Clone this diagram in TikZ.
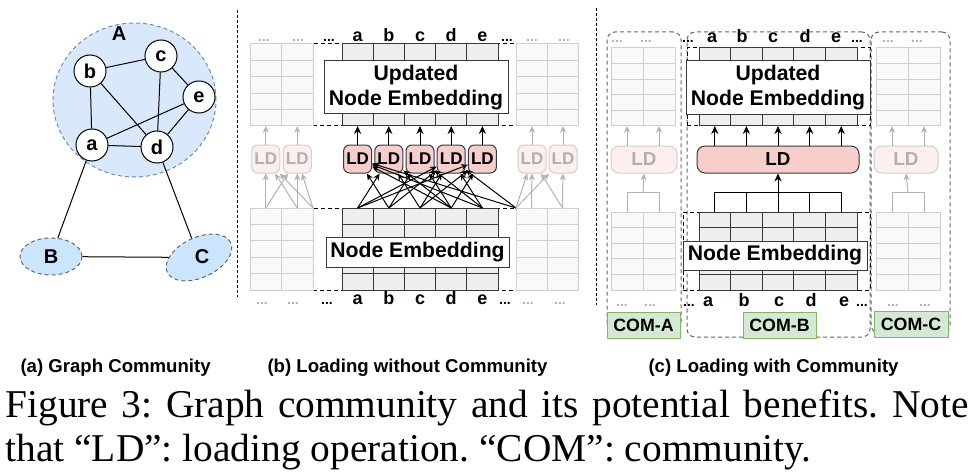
\documentclass[tikz,border=0pt]{standalone}
\usepackage{fontspec}
\setmainfont{Liberation Serif}
\setsansfont{Liberation Sans}
\usepackage{tikz}
\usetikzlibrary{shapes.geometric, arrows.meta, calc}
\frenchspacing

\definecolor{blueA}{HTML}{DAE8FC}
\definecolor{blueB}{HTML}{6C8EBF}
\definecolor{blueC}{HTML}{CCE5FF}
\definecolor{gridfill}{HTML}{EEEEEE}
\definecolor{gridline}{HTML}{36393D}
\definecolor{fadefill}{HTML}{F9F9F9}
\definecolor{fadeline}{HTML}{CFCFCF}
\definecolor{fadearr}{HTML}{B3B3B3}
\definecolor{fadetext}{HTML}{B0B0B0}
\definecolor{ldpink}{HTML}{F8CECC}
\definecolor{ldfade}{HTML}{FDEFEE}
\definecolor{greenA}{HTML}{D5E8D4}
\definecolor{greenB}{HTML}{82B366}

% inner lines of an embedding table: node, columns, rows, colour
\newcommand{\gridcells}[4]{%
  \pgfmathtruncatemacro{\lastcol}{#2-1}%
  \pgfmathtruncatemacro{\lastrow}{#3-1}%
  \foreach \k in {1,...,\lastcol}
    \draw [#4] ($(#1.north west)!\k/#2!(#1.north east)$) -- ($(#1.south west)!\k/#2!(#1.south east)$);
  \foreach \k in {1,...,\lastrow}
    \draw [#4] ($(#1.north west)!\k/#3!(#1.south west)$) -- ($(#1.north east)!\k/#3!(#1.south east)$);
}

\begin{document}
\begin{tikzpicture}[
    x=0.5pt, y=-0.5pt, line width=0.5pt,
    vertex/.style={circle, draw, fill=white, minimum size=16pt, inner sep=0pt, font=\sffamily\bfseries\fontsize{10}{12}\selectfont},
    bigcom/.style={ellipse, draw=blueB, dash pattern=on 2pt off 1.5pt, fill=blueA, minimum width=81.5pt, minimum height=77pt},
    smallcom/.style={ellipse, draw=gray!80!black, dash pattern=on 2pt off 1.5pt, fill=blueC, inner sep=0pt},
    tag/.style={font=\sffamily\bfseries\fontsize{10}{12}\selectfont},
    cellbox/.style={rectangle, draw=gridline, fill=gridfill, inner sep=0pt, outer sep=0pt},
    fadebox/.style={rectangle, draw=fadeline, fill=fadefill, inner sep=0pt, outer sep=0pt},
    frame/.style={rectangle, draw, dash pattern=on 2pt off 1.5pt, inner sep=0pt, outer sep=0pt},
    embed/.style={rectangle, draw=gridline, fill=white, inner sep=0pt, align=center, font=\sffamily\bfseries\fontsize{10.6}{12.5}\selectfont},
    ld/.style={rectangle, rounded corners=3pt, draw=gridline, fill=ldpink, inner sep=0pt, minimum size=14pt, font=\sffamily\bfseries\fontsize{8.5}{10}\selectfont},
    ldfaded/.style={ld, draw=fadeline, fill=ldfade, text=fadetext},
    ldbig/.style={ld, rounded corners=4pt, font=\sffamily\bfseries\fontsize{9.4}{11}\selectfont},
    colname/.style={anchor=base, inner sep=0pt, font=\sffamily\bfseries\fontsize{9}{10}\selectfont},
    dotsdark/.style={anchor=base, inner sep=0pt, font=\sffamily\bfseries\fontsize{7}{8}\selectfont},
    dotsfade/.style={dotsdark, text=fadetext},
    combox/.style={rectangle, rounded corners=4pt, draw=gray!80!black, dash pattern=on 2pt off 1.5pt, inner sep=0pt},
    comtag/.style={rectangle, draw=greenB, fill=greenA, inner sep=0pt, minimum height=13pt, font=\sffamily\bfseries\fontsize{8.9}{10}\selectfont},
    arrow/.style={-{Stealth[length=4pt, width=3.6pt]}},
    crossarrow/.style={-{Stealth[length=3.4pt, width=3pt]}},
    fadearrow/.style={crossarrow, draw=fadearr},
    divider/.style={dash pattern=on 1.5pt off 1pt},
    subcap/.style={anchor=base west, inner sep=0pt, font=\sffamily\bfseries\fontsize{9.3}{11}\selectfont},
    figcap/.style={anchor=base west, inner sep=0pt, font=\fontsize{19.7}{23.5}\selectfont}
]
\useasboundingbox (0,0) rectangle (974,476);

% (a) graph community
\node (A) [bigcom] at (134.5,100) {};
\node (labA) [tag] at (119,34) {A};
\node (B) [smallcom, minimum width=31pt, minimum height=18.5pt] at (51,256.5) {};
\node (C) [smallcom, minimum width=35pt, minimum height=20pt, rotate=25] at (199,257.5) {};
\node (labB) [tag] at (51,257) {B};
\node (labC) [tag] at (202,257) {C};
\node (b) [vertex] at (90,71) {b};
\node (c) [vertex] at (161,56) {c};
\node (e) [vertex] at (199,97) {e};
\node (a) [vertex] at (92,145) {a};
\node (d) [vertex] at (157,147) {d};

\draw (b) -- (c);
\draw (c) -- (e);
\draw (b) -- (a);
\draw (b) -- (d);
\draw (c) -- (d);
\draw (e) -- (a);
\draw (e) -- (d);
\draw (a) -- (d);
\draw (a) -- (B);
\draw (d) -- (C);
\draw (B) -- (C);

\draw [divider] (237,10) -- (237,297);
\draw [divider] (596,8) -- (596,305);

% (b) loading without community
\node (tfB) [frame, minimum width=101.5pt, minimum height=41pt] at (414.5,85) {};
\node (bfB) [frame, minimum width=101.5pt, minimum height=41pt] at (414.5,249) {};
\node (tlB) [fadebox, minimum width=31.5pt, minimum height=41pt] at (281.5,85) {};
\node (tgB) [cellbox, minimum width=78pt, minimum height=41pt] at (420,85) {};
\node (trB) [fadebox, minimum width=31pt, minimum height=41pt] at (547,85) {};
\node (blB) [fadebox, minimum width=31.5pt, minimum height=41pt] at (281.5,249) {};
\node (bgB) [cellbox, minimum width=78pt, minimum height=41pt] at (420,249) {};
\node (brB) [fadebox, minimum width=31pt, minimum height=41pt] at (547,249) {};
\gridcells{tlB}{2}{5}{fadeline}
\gridcells{tgB}{5}{5}{gridline}
\gridcells{trB}{2}{5}{fadeline}
\gridcells{blB}{2}{5}{fadeline}
\gridcells{bgB}{5}{5}{gridline}
\gridcells{brB}{2}{5}{fadeline}
\node (updB) [embed, minimum width=92pt, minimum height=26.5pt] at (416,87.5) {Updated\\Node Embedding};
\node (embB) [embed, minimum width=91.5pt, minimum height=15pt] at (417.5,252) {Node Embedding};

\foreach \n/\x in {a/357.6, b/388.8, c/420, d/451.2, e/482.4} {
  \node (ldB\n) [ld] at (\x,159) {LD};
  \node (tB\n) [colname] at (\x,42) {\n};
  \node (uB\n) [colname] at (\x,304) {\n};
}
\node (ldBl1) [ldfaded] at (265.75,159) {LD};
\node (ldBl2) [ldfaded] at (297.25,159) {LD};
\node (ldBr1) [ldfaded] at (532,159) {LD};
\node (ldBr2) [ldfaded] at (563,159) {LD};
\foreach \x in {264,298,532,564} \node (dtB\x) [dotsfade] at (\x,42) {...};
\foreach \x in {262,293,528,560} \node (duB\x) [dotsfade] at (\x,304) {...};
\node (dtBl) [dotsdark] at (329,42) {...};
\node (dtBr) [dotsdark] at (507,42) {...};
\node (duBl) [dotsdark] at (327,304) {...};
\node (duBr) [dotsdark] at (505,304) {...};

\foreach \n in {a,...,e} \draw [arrow] (ldB\n) -- (ldB\n |- tgB.south);
\foreach \n in {l1,l2,r1,r2} \draw [fadearrow] (ldB\n) -- (ldB\n |- tgB.south);

\foreach \n/\f in {a/0.1, b/0.3, c/0.5, d/0.7, e/0.9}
  \coordinate (sB\n) at ($(bgB.north west)!\f!(bgB.north east)$);
\coordinate (sBl1) at ($(blB.north west)!0.25!(blB.north east)$);
\coordinate (sBl2) at ($(blB.north west)!0.75!(blB.north east)$);
\coordinate (sBr1) at ($(brB.north west)!0.25!(brB.north east)$);
\coordinate (sBr2) at ($(brB.north west)!0.75!(brB.north east)$);

\foreach \s/\t in {b/a, d/a, e/a, a/b, c/b, d/b, b/c, d/c, e/c, a/d, b/d, c/d, e/d, a/e, c/e, d/e}
  \draw [crossarrow] (sB\s) -- (ldB\t);
\draw [crossarrow] (bfB.north east) -- (ldBa);
\draw [crossarrow] (bfB.north east) -- (ldBd);
\draw [fadearrow] (sBl1) -- (ldBl1);
\draw [fadearrow] (sBl2) -- (ldBl1);
\draw [fadearrow] (bfB.north west) -- (ldBl1);
\draw [fadearrow] (sBl2) -- (ldBl2);
\draw [fadearrow] (sBl1) -- (ldBl2);
\draw [fadearrow] (bfB.north west) -- (ldBl2);
\draw [fadearrow] (sBr1) -- (ldBr1);
\draw [fadearrow] (sBr2) -- (ldBr1);
\draw [fadearrow] (bfB.north east) -- (ldBr1);
\draw [fadearrow] (sBr2) -- (ldBr2);
\draw [fadearrow] (bfB.north east) -- (ldBr2);

% (c) loading with community
\node (cA) [combox, minimum width=37pt, minimum height=150.5pt] at (644,182.5) {};
\node (cB) [combox, minimum width=91.5pt, minimum height=152.5pt] at (778.5,184.5) {};
\node (cC) [combox, minimum width=39.5pt, minimum height=150.5pt] at (910.5,182.5) {};
\node (tfC) [frame, minimum width=91.5pt, minimum height=39pt] at (778.5,87) {};
\node (bfC) [frame, minimum width=93.5pt, minimum height=39pt] at (776.5,251) {};
\node (tlC) [fadebox, minimum width=32pt, minimum height=39pt] at (643,87) {};
\node (tgC) [cellbox, minimum width=79pt, minimum height=39pt] at (778,87) {};
\node (trC) [fadebox, minimum width=32pt, minimum height=39pt] at (908,87) {};
\node (blC) [fadebox, minimum width=32pt, minimum height=39pt] at (643,251) {};
\node (bgC) [cellbox, minimum width=79pt, minimum height=39pt] at (778,251) {};
\node (brC) [fadebox, minimum width=32pt, minimum height=39pt] at (908,251) {};
\gridcells{tlC}{2}{5}{fadeline}
\gridcells{tgC}{5}{5}{gridline}
\gridcells{trC}{2}{5}{fadeline}
\gridcells{blC}{2}{5}{fadeline}
\gridcells{bgC}{5}{5}{gridline}
\gridcells{brC}{2}{5}{fadeline}
\node (updC) [embed, minimum width=92pt, minimum height=27pt] at (778,88) {Updated\\Node Embedding};
\node (embC) [embed, minimum width=92pt, minimum height=14.5pt] at (775,255.5) {Node Embedding};

\node (ldC) [ldbig, minimum width=81pt, minimum height=13.5pt] at (778,159.5) {LD};
\node (ldCl) [ldfaded, ldbig, draw=fadeline, fill=ldfade, text=fadetext, minimum width=33pt, minimum height=13.5pt] at (644,159.5) {LD};
\node (ldCr) [ldfaded, ldbig, draw=fadeline, fill=ldfade, text=fadetext, minimum width=32pt, minimum height=13.5pt] at (906,159.5) {LD};

\node (tagA) [comtag, minimum width=36.5pt] at (643.5,325) {COM-A};
\node (tagB) [comtag, minimum width=36.5pt] at (779.5,325) {COM-B};
\node (tagC) [comtag, minimum width=37pt] at (911,324) {COM-C};

\foreach \n/\x in {a/712, b/742, c/773, d/805, e/836} \node (tC\n) [colname] at (\x,43) {\n};
\foreach \n/\x in {a/708, b/744, c/779, d/811, e/844} \node (uC\n) [colname] at (\x,306) {\n};
\foreach \x in {617,646,888,917} \node (dtC\x) [dotsfade] at (\x,43) {...};
\foreach \x in {622,650,893,925} \node (duC\x) [dotsfade] at (\x,306) {...};
\node (dtCl) [dotsdark] at (688,43) {...};
\node (dtCr) [dotsdark] at (857,43) {...};
\node (duCl) [dotsdark] at (689,306) {...};
\node (duCr) [dotsdark] at (862,306) {...};

\foreach \n/\f in {1/0.1, 2/0.3, 3/0.5, 4/0.7, 5/0.9} {
  \coordinate (upC\n) at ($(tgC.south west)!\f!(tgC.south east)$);
  \coordinate (lowC\n) at ($(bgC.north west)!\f!(bgC.north east)$);
}
\foreach \n in {1,...,5} \draw [arrow] (ldC.north -| upC\n) -- (upC\n);
\draw (lowC1) -- ++(0,-20) -| (lowC5);
\foreach \n in {2,3,4} \draw (lowC\n) -- ++(0,-20);
\coordinate (hubC) at ($(lowC3)+(0,-20)$);
\draw [arrow] (hubC) -- (ldC.south);

\foreach \s in {l,r} {
  \coordinate (up\s1) at ($(t\s C.south west)!0.25!(t\s C.south east)$);
  \coordinate (up\s2) at ($(t\s C.south west)!0.75!(t\s C.south east)$);
  \coordinate (low\s1) at ($(b\s C.north west)!0.25!(b\s C.north east)$);
  \coordinate (low\s2) at ($(b\s C.north west)!0.75!(b\s C.north east)$);
}
\draw [fadearrow] (ldCl.north -| upl1) -- (upl1);
\draw [fadearrow] (ldCl.north -| upl2) -- (upl2);
\draw [fadearrow] (ldCr.north -| upr1) -- (upr1);
\draw [fadearrow] (ldCr.north -| upr2) -- (upr2);
\draw [fadearr] (lowl1) -- ++(0,-20) -| (lowl2);
\draw [fadearr] (lowr1) -- ++(0,-20) -| (lowr2);
\coordinate (hubL) at ($(lowl1)!0.5!(lowl2)+(0,-20)$);
\coordinate (hubR) at ($(lowr1)!0.5!(lowr2)+(0,-20)$);
\draw [fadearrow] (hubL) -- (ldCl.south);
\draw [fadearrow] (hubR) -- (ldCr.south);

% captions
\node (capa) [subcap] at (20,372) {(a) Graph Community};
\node (capb) [subcap] at (267,372) {(b) Loading without Community};
\node (capc) [subcap] at (648,372) {(c) Loading with Community};
\node (capL1) [figcap] at (5,417) {\makebox[481.5pt][s]{Figure 3: Graph community and its potential benefits. Note}};
\node (capL2) [figcap] at (5,461) {that “LD”: loading operation. “COM”: community.};

\end{tikzpicture}
\end{document}
